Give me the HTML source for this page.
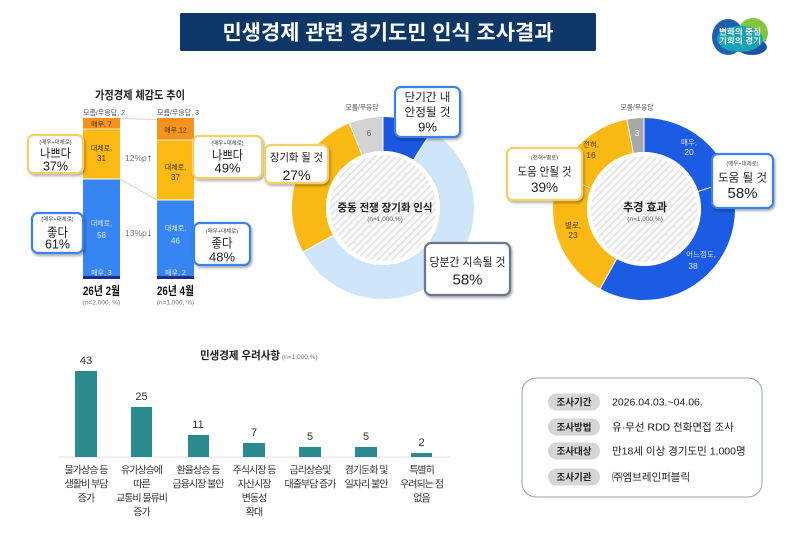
<!DOCTYPE html>
<html><head><meta charset="utf-8"><style>
html,body{margin:0;padding:0;background:#fff;}
svg{display:block;}
text{font-family:"Liberation Sans","Noto Sans CJK KR",sans-serif;}
</style></head><body>
<svg width="800" height="543" viewBox="0 0 800 543" xmlns="http://www.w3.org/2000/svg">
<defs>
<pattern id="hatch" width="5" height="5" patternUnits="userSpaceOnUse" patternTransform="rotate(45)">
<rect width="5" height="5" fill="#fafafa"/>
<rect width="1.6" height="5" fill="#e3e3e3"/>
</pattern>
<filter id="sh" x="-20%" y="-20%" width="150%" height="160%">
<feDropShadow dx="1.2" dy="1.8" stdDeviation="1.2" flood-color="#000" flood-opacity="0.35"/>
</filter>
</defs>
<rect width="800" height="543" fill="#fff"/>

<!-- Title -->
<rect x="180" y="13" width="416" height="38" rx="2" fill="#0c3766"/>
<text x="388" y="39.5" font-size="20.5" font-weight="700" fill="#fff" text-anchor="middle" textLength="331" lengthAdjust="spacingAndGlyphs">민생경제 관련 경기도민 인식 조사결과</text>

<!-- Logo -->
<g>
<ellipse cx="728" cy="37" rx="16" ry="18" fill="#1f5fb0"/>
<ellipse cx="753" cy="33" rx="15" ry="15" fill="#84c441"/>
<ellipse cx="752" cy="47" rx="15" ry="8" fill="#1b55a8"/>
<ellipse cx="740" cy="39" rx="23" ry="13" fill="#18a4b6"/>
<text x="740" y="34.5" font-size="8" font-weight="700" fill="#fff" text-anchor="middle" textLength="42" lengthAdjust="spacingAndGlyphs">변화의 중심</text>
<text x="740" y="43.5" font-size="8" font-weight="700" fill="#fff" text-anchor="middle" textLength="42" lengthAdjust="spacingAndGlyphs">기회의 경기</text>
</g>

<!-- Left: stacked bars -->
<text x="140" y="99" font-size="11.5" font-weight="700" fill="#222" text-anchor="middle" textLength="90" lengthAdjust="spacingAndGlyphs">가정경제 체감도 추이</text>
<text x="83" y="115" font-size="7" fill="#555" textLength="42" lengthAdjust="spacingAndGlyphs">모름/무응답, 2</text>
<text x="157" y="115" font-size="7" fill="#555" textLength="42" lengthAdjust="spacingAndGlyphs">모름/무응답, 3</text>
<line x1="120" y1="118.5" x2="157" y2="119.5" stroke="#c9c9c9" stroke-width="0.8"/>
<line x1="120" y1="179" x2="157" y2="200" stroke="#c9c9c9" stroke-width="0.8"/>

<rect x="83" y="118" width="37" height="11" fill="#f6921e"/>
<rect x="83" y="129" width="37" height="50" fill="#fdb914"/>
<rect x="83" y="179" width="37" height="97" fill="#3784f3"/>
<rect x="83" y="276" width="37" height="3" fill="#1d2d8e"/>
<line x1="83" y1="129" x2="120" y2="129" stroke="#fff" stroke-width="0.8"/>
<line x1="83" y1="179" x2="120" y2="179" stroke="#fff" stroke-width="1"/>

<rect x="157" y="118" width="37" height="22" fill="#f6921e"/>
<rect x="157" y="140" width="37" height="60" fill="#fdb914"/>
<rect x="157" y="200" width="37" height="76" fill="#3784f3"/>
<rect x="157" y="276" width="37" height="3" fill="#1d2d8e"/>
<line x1="157" y1="140" x2="194" y2="140" stroke="#fff" stroke-width="0.8"/>
<line x1="157" y1="200" x2="194" y2="200" stroke="#fff" stroke-width="1"/>

<g font-size="7" text-anchor="middle">
<text x="101.5" y="126.5" fill="#4a3300">매우, 7</text>
<text x="101.5" y="150.5" fill="#4a3300">대체로,</text>
<text x="101.5" y="161" fill="#4a3300" font-size="8">31</text>
<text x="101.5" y="225.5" fill="#dce9ff">대체로,</text>
<text x="101.5" y="238" fill="#dce9ff" font-size="8">58</text>
<text x="101.5" y="275" fill="#dce9ff">매우, 3</text>
<text x="175.5" y="132.5" fill="#4a3300">매우,12</text>
<text x="175.5" y="169.5" fill="#4a3300">대체로,</text>
<text x="175.5" y="180" fill="#4a3300" font-size="8">37</text>
<text x="175.5" y="230.5" fill="#dce9ff">대체로,</text>
<text x="175.5" y="243.5" fill="#dce9ff" font-size="8">46</text>
<text x="175.5" y="275" fill="#dce9ff">매우, 2</text>
</g>
<text x="125" y="161" font-size="8.5" fill="#777">12%p<tspan fill="#222" font-weight="700" font-size="10">↑</tspan></text>
<text x="125" y="236" font-size="8.5" fill="#777">13%p<tspan fill="#222" font-weight="700" font-size="10">↓</tspan></text>

<text x="101.5" y="295" font-size="12" font-weight="700" fill="#111" text-anchor="middle" textLength="37" lengthAdjust="spacingAndGlyphs">26년 2월</text>
<text x="101.5" y="304.5" font-size="6.5" fill="#777" text-anchor="middle">(n=2,000, %)</text>
<text x="175.5" y="295" font-size="12" font-weight="700" fill="#111" text-anchor="middle" textLength="37" lengthAdjust="spacingAndGlyphs">26년 4월</text>
<text x="175.5" y="304.5" font-size="6.5" fill="#777" text-anchor="middle">(n=1,000, %)</text>

<!-- Left callouts -->
<rect x="28" y="135" width="55" height="38" rx="6" fill="#fff" stroke="#f3cf6f" stroke-width="2.2" filter="url(#sh)"/>
<text x="55.5" y="144" font-size="5.5" fill="#444" text-anchor="middle">(매우+대체로)</text>
<text x="55.5" y="157.5" font-size="12" fill="#222" text-anchor="middle" textLength="31" lengthAdjust="spacingAndGlyphs">나쁘다</text>
<text x="55.5" y="170.5" font-size="12.5" fill="#222" text-anchor="middle">37%</text>

<rect x="32" y="213" width="51" height="40" rx="6" fill="#fff" stroke="#3b83ea" stroke-width="2.2" filter="url(#sh)"/>
<text x="57.5" y="221" font-size="5.5" fill="#444" text-anchor="middle">(매우+대체로)</text>
<text x="57.5" y="236.3" font-size="12" fill="#222" text-anchor="middle" textLength="21" lengthAdjust="spacingAndGlyphs">좋다</text>
<text x="57.5" y="248.6" font-size="12.5" fill="#222" text-anchor="middle">61%</text>

<rect x="193" y="136" width="69" height="42" rx="6" fill="#fff" stroke="#f3cf6f" stroke-width="2.2" filter="url(#sh)"/>
<text x="227.5" y="145" font-size="5.5" fill="#444" text-anchor="middle">(매우+대체로)</text>
<text x="227.5" y="159.3" font-size="12.5" fill="#222" text-anchor="middle" textLength="31" lengthAdjust="spacingAndGlyphs">나쁘다</text>
<text x="227.5" y="172.6" font-size="13" fill="#222" text-anchor="middle">49%</text>

<rect x="194" y="223" width="56" height="42" rx="6" fill="#fff" stroke="#3b83ea" stroke-width="2.2" filter="url(#sh)"/>
<text x="222" y="233" font-size="5.5" fill="#444" text-anchor="middle">(매우+대체로)</text>
<text x="222" y="247.3" font-size="12.5" fill="#222" text-anchor="middle" textLength="21" lengthAdjust="spacingAndGlyphs">좋다</text>
<text x="222" y="261.6" font-size="13" fill="#222" text-anchor="middle">48%</text>

<!-- Middle donut -->
<g transform="rotate(-90 383 208)" fill="none" stroke-width="34">
<circle cx="383" cy="208" r="74" stroke="#1b56e0" stroke-dasharray="41.85 464.96" stroke-dashoffset="0"/>
<circle cx="383" cy="208" r="74" stroke="#cfe5f9" stroke-dasharray="269.68 464.96" stroke-dashoffset="-41.85"/>
<circle cx="383" cy="208" r="74" stroke="#fbb915" stroke-dasharray="125.54 464.96" stroke-dashoffset="-311.52"/>
<circle cx="383" cy="208" r="74" stroke="#d3d3d3" stroke-dasharray="27.90 464.96" stroke-dashoffset="-437.06"/>
</g>
<g stroke="#fff" stroke-width="1">
<line x1="383" y1="152" x2="383" y2="116"/>
<line x1="413" y1="160.7" x2="432.3" y2="130.3"/>
<line x1="333.9" y1="235" x2="302.4" y2="252.3"/>
<line x1="362.4" y1="155.9" x2="349.1" y2="122.5"/>
</g>
<circle cx="383" cy="208" r="57" fill="#fff"/>
<circle cx="383" cy="208" r="53" fill="url(#hatch)"/>
<text x="385" y="211" font-size="10.5" font-weight="700" fill="#222" text-anchor="middle" textLength="95" lengthAdjust="spacingAndGlyphs">중동 전쟁 장기화 인식</text>
<text x="385" y="221" font-size="6.5" fill="#666" text-anchor="middle">(n=1,000,%)</text>
<text x="362" y="109.5" font-size="7" fill="#555" text-anchor="middle" textLength="33" lengthAdjust="spacingAndGlyphs">모름/무응답</text>
<text x="369" y="136" font-size="8" fill="#555" text-anchor="middle">6</text>

<rect x="395" y="87" width="65" height="50" rx="6" fill="#fff" stroke="#3b83ea" stroke-width="2.2" filter="url(#sh)"/>
<text x="427.5" y="101" font-size="11.5" fill="#222" text-anchor="middle" textLength="46" lengthAdjust="spacingAndGlyphs">단기간 내</text>
<text x="427.5" y="116" font-size="11.5" fill="#222" text-anchor="middle" textLength="46" lengthAdjust="spacingAndGlyphs">안정될 것</text>
<text x="427.5" y="131.5" font-size="13" fill="#222" text-anchor="middle">9%</text>

<rect x="265" y="145" width="63" height="38" rx="6" fill="#fff" stroke="#f3cf6f" stroke-width="2.2" filter="url(#sh)"/>
<text x="296.5" y="161" font-size="11" fill="#222" text-anchor="middle" textLength="53" lengthAdjust="spacingAndGlyphs">장기화 될 것</text>
<text x="296.5" y="180" font-size="14" fill="#222" text-anchor="middle">27%</text>

<rect x="425" y="243" width="85" height="52" rx="6" fill="#fff" stroke="#6b7789" stroke-width="2.2" filter="url(#sh)"/>
<text x="467.5" y="266" font-size="11.5" fill="#222" text-anchor="middle" textLength="76" lengthAdjust="spacingAndGlyphs">당분간 지속될 것</text>
<text x="467.5" y="284.5" font-size="15" fill="#222" text-anchor="middle">58%</text>

<!-- Right donut -->
<g transform="rotate(-90 644 209)" fill="none" stroke-width="34">
<circle cx="644" cy="209" r="74" stroke="#1c5ce4" stroke-dasharray="269.68 464.96" stroke-dashoffset="0"/>
<circle cx="644" cy="209" r="74" stroke="#fbb915" stroke-dasharray="181.33 464.96" stroke-dashoffset="-269.68"/>
<circle cx="644" cy="209" r="74" stroke="#a8a8a8" stroke-dasharray="13.95 464.96" stroke-dashoffset="-451.01"/>
</g>
<g stroke="#fff" stroke-width="1">
<line x1="644" y1="153" x2="644" y2="117"/>
<line x1="697.3" y1="191.7" x2="731.5" y2="180.6"/>
<line x1="617" y1="258.1" x2="599.7" y2="289.6"/>
<line x1="591.9" y1="188.4" x2="558.5" y2="175.1" stroke-width="0.6"/>
<line x1="633.5" y1="154" x2="626.8" y2="118.6"/>
</g>
<circle cx="644" cy="209" r="57" fill="#fff"/>
<circle cx="644" cy="209" r="53" fill="url(#hatch)"/>
<text x="645" y="211" font-size="11.5" font-weight="700" fill="#222" text-anchor="middle" textLength="44" lengthAdjust="spacingAndGlyphs">추경 효과</text>
<text x="645" y="221" font-size="6.5" fill="#666" text-anchor="middle">(n=1,000,%)</text>
<text x="637" y="109.5" font-size="7" fill="#555" text-anchor="middle" textLength="33" lengthAdjust="spacingAndGlyphs">모름/무응답</text>
<text x="637" y="136" font-size="8" fill="#fff" text-anchor="middle">3</text>
<g font-size="7.5" text-anchor="middle">
<text x="689" y="145" fill="#dce9ff">매우,</text>
<text x="689" y="155" fill="#dce9ff" font-size="8.5">20</text>
<text x="701" y="257" fill="#dce9ff">어느정도,</text>
<text x="693" y="269" fill="#dce9ff" font-size="8.5">38</text>
<text x="573" y="228" fill="#5a4000">별로,</text>
<text x="573" y="238" fill="#5a4000" font-size="8.5">23</text>
<text x="591" y="147" fill="#5a4000">전혀,</text>
<text x="591" y="158" fill="#5a4000" font-size="8.5">16</text>
</g>

<rect x="712" y="154" width="61" height="54" rx="6" fill="#fff" stroke="#3b83ea" stroke-width="2.2" filter="url(#sh)"/>
<text x="742.5" y="165.5" font-size="5.5" fill="#444" text-anchor="middle">(매우+대체로)</text>
<text x="742.5" y="181.5" font-size="11.5" fill="#222" text-anchor="middle" textLength="49" lengthAdjust="spacingAndGlyphs">도움 될 것</text>
<text x="742.5" y="198" font-size="15" fill="#222" text-anchor="middle">58%</text>

<rect x="507" y="148" width="75" height="52" rx="6" fill="#fff" stroke="#f3cf6f" stroke-width="2.2" filter="url(#sh)"/>
<text x="544.5" y="159.5" font-size="5.5" fill="#444" text-anchor="middle">(전혀+별로)</text>
<text x="544.5" y="175.5" font-size="11.5" fill="#222" text-anchor="middle" textLength="54" lengthAdjust="spacingAndGlyphs">도움 안될 것</text>
<text x="544.5" y="192" font-size="13.5" fill="#222" text-anchor="middle">39%</text>

<!-- Bottom bar chart -->
<text x="200" y="359" font-size="11" font-weight="700" fill="#222"><tspan textLength="80" lengthAdjust="spacingAndGlyphs">민생경제 우려사항</tspan><tspan font-size="6.5" font-weight="400" fill="#777" dx="2">(n=1,000,%)</tspan></text>
<line x1="58" y1="457" x2="450" y2="457" stroke="#e3e3e3" stroke-width="1"/>
<g fill="#2b8a8e">
<rect x="75" y="371" width="22" height="86"/>
<rect x="131" y="407" width="21" height="50"/>
<rect x="188" y="435" width="21" height="22"/>
<rect x="243" y="443" width="22" height="14"/>
<rect x="299" y="447" width="22" height="10"/>
<rect x="355" y="447" width="22" height="10"/>
<rect x="411" y="453" width="21" height="4"/>
</g>
<g font-size="11" fill="#333" text-anchor="middle">
<text x="86" y="364">43</text>
<text x="141.5" y="400">25</text>
<text x="198" y="428">11</text>
<text x="254" y="436">7</text>
<text x="310" y="440">5</text>
<text x="366" y="440">5</text>
<text x="421.5" y="446">2</text>
</g>
<g font-size="10" fill="#333" text-anchor="middle" letter-spacing="-1">
<text x="86" y="473.5">물가상승 등</text>
<text x="86" y="487.5">생활비 부담</text>
<text x="86" y="501.5">증가</text>
<text x="141.5" y="473.5">유가상승에</text>
<text x="141.5" y="487.5">따른</text>
<text x="141.5" y="501.5">교통비 물류비</text>
<text x="141.5" y="515.5">증가</text>
<text x="198" y="473.5">환율상승 등</text>
<text x="198" y="487.5">금융시장 불안</text>
<text x="254" y="473.5">주식시장 등</text>
<text x="254" y="487.5">자산시장</text>
<text x="254" y="501.5">변동성</text>
<text x="254" y="515.5">확대</text>
<text x="310" y="473.5">금리상승및</text>
<text x="310" y="487.5">대출부담 증가</text>
<text x="366" y="473.5">경기둔화 및</text>
<text x="366" y="487.5">일자리 불안</text>
<text x="421.5" y="473.5">특별히</text>
<text x="421.5" y="487.5">우려되는 점</text>
<text x="421.5" y="501.5">없음</text>
</g>

<!-- Survey info table -->
<rect x="522" y="378" width="240" height="119" rx="14" fill="#fff" stroke="#93a6b8" stroke-width="1"/>
<g fill="#d6d6d6">
<rect x="548" y="393.5" width="52" height="17" rx="8.5"/>
<rect x="548" y="418.5" width="52" height="17" rx="8.5"/>
<rect x="548" y="442.5" width="52" height="17" rx="8.5"/>
<rect x="548" y="468.5" width="52" height="17" rx="8.5"/>
</g>
<g font-size="9.5" font-weight="700" fill="#222" text-anchor="middle">
<text x="574" y="405.5">조사기간</text>
<text x="574" y="430.5">조사방법</text>
<text x="574" y="454.5">조사대상</text>
<text x="574" y="480.5">조사기관</text>
</g>
<g font-size="10.5" fill="#222">
<text x="612" y="405.5">2026.04.03.~04.06.</text>
<text x="612" y="430.5">유·무선 RDD 전화면접 조사</text>
<text x="612" y="454.5">만18세 이상 경기도민 1,000명</text>
<text x="612" y="480.5">㈜엠브레인퍼블릭</text>
</g>
</svg>
</body></html>
